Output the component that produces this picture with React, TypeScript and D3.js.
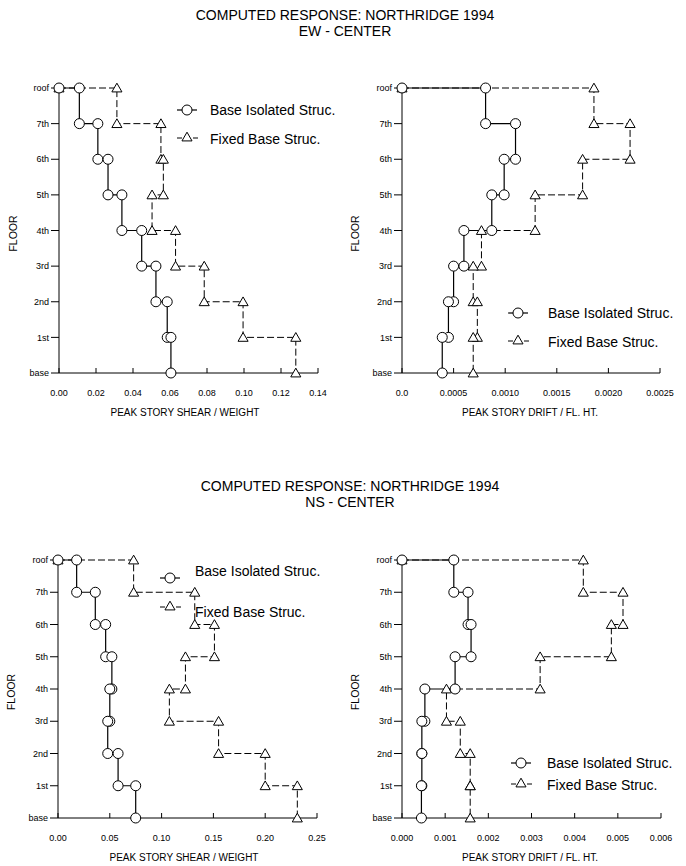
import React from "react";
import * as d3 from "d3";

const FLOORS = ["base", "1st", "2nd", "3rd", "4th", "5th", "6th", "7th", "roof"];

// story values, story 1 (base-1st) ... story 8 (7th-roof)
const EW_SHEAR_ISO = [0.0605, 0.0585, 0.0524, 0.0447, 0.034, 0.0265, 0.021, 0.011];
const EW_SHEAR_FIXED = [0.128, 0.0995, 0.0785, 0.063, 0.0503, 0.0564, 0.0551, 0.0313];
const EW_DRIFT_ISO = [0.00039, 0.00045, 0.0005, 0.0006, 0.00087, 0.00099, 0.0011, 0.00081];
const EW_DRIFT_FIXED = [0.00069, 0.00073, 0.00069, 0.00077, 0.00129, 0.00175, 0.00221, 0.00186];
const NS_SHEAR_ISO = [0.075, 0.058, 0.048, 0.05, 0.052, 0.046, 0.036, 0.018];
const NS_SHEAR_FIXED = [0.231, 0.2, 0.155, 0.1075, 0.123, 0.151, 0.132, 0.073];
const NS_DRIFT_ISO = [0.00045, 0.00046, 0.00046, 0.00053, 0.00123, 0.0016, 0.00153, 0.0012];
const NS_DRIFT_FIXED = [0.00158, 0.00158, 0.00135, 0.00103, 0.0032, 0.00485, 0.00512, 0.0042];

const EW_SHEAR_TICKS = [0, 0.02, 0.04, 0.06, 0.08, 0.1, 0.12, 0.14];
const EW_SHEAR_LABELS = ["0.00", "0.02", "0.04", "0.06", "0.08", "0.10", "0.12", "0.14"];
const EW_DRIFT_TICKS = [0, 0.0005, 0.001, 0.0015, 0.002, 0.0025];
const EW_DRIFT_LABELS = ["0.0", "0.0005", "0.0010", "0.0015", "0.0020", "0.0025"];
const NS_SHEAR_TICKS = [0, 0.05, 0.1, 0.15, 0.2, 0.25];
const NS_SHEAR_LABELS = ["0.00", "0.05", "0.10", "0.15", "0.20", "0.25"];
const NS_DRIFT_TICKS = [0, 0.001, 0.002, 0.003, 0.004, 0.005, 0.006];
const NS_DRIFT_LABELS = ["0.000", "0.001", "0.002", "0.003", "0.004", "0.005", "0.006"];

const TITLE = "COMPUTED RESPONSE: NORTHRIDGE 1994";
const LEGEND_ISO = "Base Isolated Struc.";
const LEGEND_FIXED = "Fixed Base Struc.";
const SHEAR_TITLE = "PEAK STORY SHEAR / WEIGHT";
const DRIFT_TITLE = "PEAK STORY DRIFT / FL. HT.";

const FONT = "'Liberation Sans', Arial, Helvetica, sans-serif";

const triPath = d3.symbol(d3.symbolTriangle, 44)() as string;

function Tri({ x, y }: { x: number; y: number }) {
  return <path d={triPath} transform={`translate(${x},${y + 1})`} fill="#fff" stroke="#000" strokeWidth={1} />;
}
function Circ({ x, y }: { x: number; y: number }) {
  return <circle cx={x} cy={y} r={5} fill="#fff" stroke="#000" strokeWidth={1} />;
}

type Legend = { mx: number; my1: number; my2: number; tx: number; ty1: number; ty2: number };

type PanelProps = {
  x0: number;
  x1: number;
  yTop: number;
  yBottom: number;
  xMax: number;
  ticks: number[];
  labels: string[];
  xTitle: string;
  titleX: number;
  floorX: number;
  iso: number[];
  fixed: number[];
  legend: Legend;
};

function buildPoints(vals: number[]): [number, number][] {
  const p: [number, number][] = [[0, 8]];
  for (let k = 8; k >= 1; k--) {
    p.push([vals[k - 1], k]);
    p.push([vals[k - 1], k - 1]);
  }
  return p;
}

function Panel(props: PanelProps) {
  const { x0, x1, yTop, yBottom, xMax, ticks, labels, xTitle, titleX, floorX, iso, fixed, legend } = props;
  const x = d3.scaleLinear().domain([0, xMax]).range([x0, x1]);
  const y = d3.scaleLinear().domain([0, 8]).range([yBottom, yTop]);
  const line = d3
    .line<[number, number]>()
    .x((d) => x(d[0]))
    .y((d) => y(d[1]));
  const isoPts = buildPoints(iso);
  const fixPts = buildPoints(fixed);
  return (
    <g>
      {/* axes */}
      <line x1={x0} x2={x0} y1={y(8)} y2={y(0)} stroke="#000" strokeWidth={1} />
      <line x1={x0} x2={x1} y1={y(0)} y2={y(0)} stroke="#000" strokeWidth={1} />
      {FLOORS.map((f, i) => (
        <g key={f}>
          <line x1={x0 - 8} x2={x0} y1={y(i)} y2={y(i)} stroke="#000" strokeWidth={1} />
          <text x={x0 - 10} y={y(i)} dy="0.35em" textAnchor="end" fontSize={9} fontFamily={FONT}>
            {f}
          </text>
        </g>
      ))}
      {ticks.map((t, i) => (
        <g key={i}>
          <line x1={x(t)} x2={x(t)} y1={y(0)} y2={y(0) - 5} stroke="#000" strokeWidth={1} />
          <text x={x(t)} y={y(0) + 20} dy="0.35em" textAnchor="middle" fontSize={9} fontFamily={FONT}>
            {labels[i]}
          </text>
        </g>
      ))}
      <text x={titleX} y={y(0) + 39} dy="0.35em" textAnchor="middle" fontSize={10} fontFamily={FONT}>
        {xTitle}
      </text>
      <text
        transform={`translate(${floorX},${(y(0) + y(8)) / 2 + 3}) rotate(-90)`}
        dy="0.35em"
        textAnchor="middle"
        fontSize={10.5}
        fontFamily={FONT}
      >
        FLOOR
      </text>
      {/* series */}
      <path d={line(fixPts) as string} fill="none" stroke="#000" strokeWidth={1} strokeDasharray="7,3" />
      <path d={line(isoPts) as string} fill="none" stroke="#000" strokeWidth={1.2} />
      {fixPts.map((p, i) => (
        <Tri key={"t" + i} x={x(p[0])} y={y(p[1])} />
      ))}
      {isoPts.map((p, i) => (
        <Circ key={"c" + i} x={x(p[0])} y={y(p[1])} />
      ))}
      {/* legend */}
      <line x1={legend.mx - 10} x2={legend.mx + 10} y1={legend.my1} y2={legend.my1} stroke="#000" strokeWidth={1.2} />
      <Circ x={legend.mx} y={legend.my1} />
      <line
        x1={legend.mx - 10}
        x2={legend.mx + 12}
        y1={legend.my2}
        y2={legend.my2}
        stroke="#000"
        strokeWidth={1}
        strokeDasharray="5,3"
      />
      <Tri x={legend.mx} y={legend.my2 - 1} />
      <text x={legend.tx} y={legend.ty1} dy="0.35em" fontSize={14} fontFamily={FONT}>
        {LEGEND_ISO}
      </text>
      <text x={legend.tx} y={legend.ty2} dy="0.35em" fontSize={14} fontFamily={FONT}>
        {LEGEND_FIXED}
      </text>
    </g>
  );
}

export default function App() {
  return (
    <svg
      width={686}
      height={866}
      style={{ position: "absolute", left: 0, top: 0, background: "#fff" }}
      xmlns="http://www.w3.org/2000/svg"
    >
      <rect width={686} height={866} fill="#fff" />
      <text x={345} y={20} textAnchor="middle" fontSize={14} fontFamily={FONT}>
        {TITLE}
      </text>
      <text x={345} y={36} textAnchor="middle" fontSize={14} fontFamily={FONT}>
        EW - CENTER
      </text>
      <text x={350} y={491} textAnchor="middle" fontSize={14} fontFamily={FONT}>
        {TITLE}
      </text>
      <text x={350} y={507} textAnchor="middle" fontSize={14} fontFamily={FONT}>
        NS - CENTER
      </text>
      <Panel
        x0={59}
        x1={318}
        yTop={88}
        yBottom={373}
        xMax={0.14}
        ticks={EW_SHEAR_TICKS}
        labels={EW_SHEAR_LABELS}
        xTitle={SHEAR_TITLE}
        titleX={185}
        floorX={13}
        iso={EW_SHEAR_ISO}
        fixed={EW_SHEAR_FIXED}
        legend={{ mx: 187, my1: 110, my2: 138, tx: 210, ty1: 110, ty2: 139 }}
      />
      <Panel
        x0={402}
        x1={660}
        yTop={88}
        yBottom={373}
        xMax={0.0025}
        ticks={EW_DRIFT_TICKS}
        labels={EW_DRIFT_LABELS}
        xTitle={DRIFT_TITLE}
        titleX={530}
        floorX={355}
        iso={EW_DRIFT_ISO}
        fixed={EW_DRIFT_FIXED}
        legend={{ mx: 518, my1: 313, my2: 341, tx: 548, ty1: 313, ty2: 342 }}
      />
      <Panel
        x0={58}
        x1={317}
        yTop={560}
        yBottom={818}
        xMax={0.25}
        ticks={NS_SHEAR_TICKS}
        labels={NS_SHEAR_LABELS}
        xTitle={SHEAR_TITLE}
        titleX={184}
        floorX={11}
        iso={NS_SHEAR_ISO}
        fixed={NS_SHEAR_FIXED}
        legend={{ mx: 170, my1: 578, my2: 607, tx: 195, ty1: 571, ty2: 612 }}
      />
      <Panel
        x0={402}
        x1={661}
        yTop={560}
        yBottom={818}
        xMax={0.006}
        ticks={NS_DRIFT_TICKS}
        labels={NS_DRIFT_LABELS}
        xTitle={DRIFT_TITLE}
        titleX={530}
        floorX={355}
        iso={NS_DRIFT_ISO}
        fixed={NS_DRIFT_FIXED}
        legend={{ mx: 521, my1: 763, my2: 784, tx: 547, ty1: 763, ty2: 785 }}
      />
    </svg>
  );
}
